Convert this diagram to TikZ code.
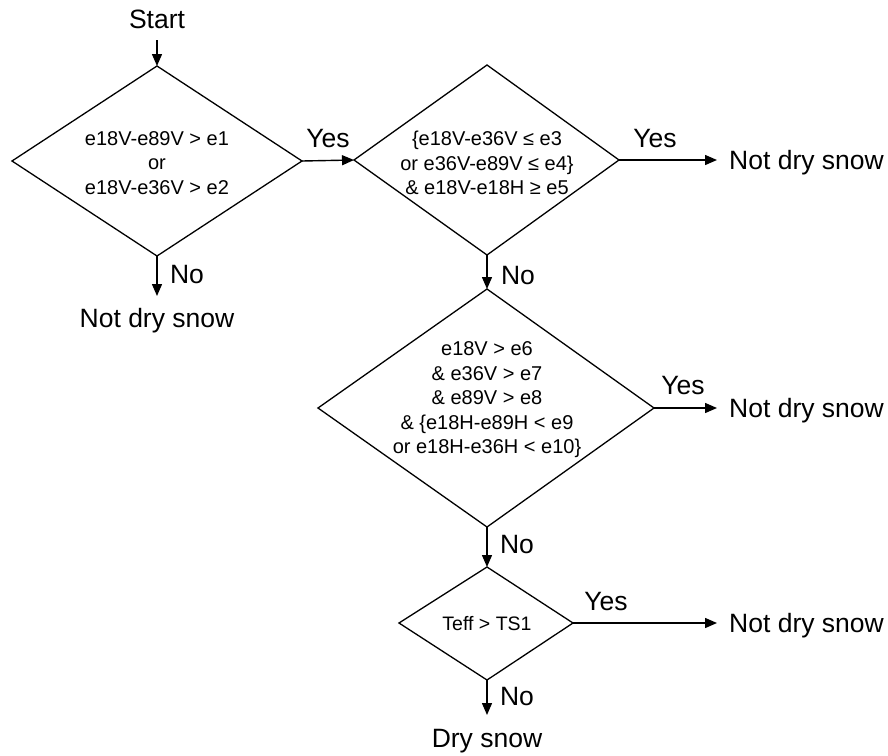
\documentclass[tikz,border=0pt]{standalone}
\usepackage{fontspec}
\setmainfont{Liberation Sans}
\usetikzlibrary{arrows.meta}
\begin{document}
\begin{tikzpicture}[x=1pt,y=-1pt,
  dtext/.style={inner sep=0pt,align=center,font=\fontsize{20}{24.5}\selectfont},
  dline/.style={line width=1.3pt,line join=miter},
  lbl/.style={font=\fontsize{26.5}{30}\selectfont,inner sep=0pt,anchor=base},
  arr/.style={line width=1.4pt,-{Triangle[length=12pt,width=10pt]}}]
\useasboundingbox (0,0) rectangle (888,755);
% decision 1
\coordinate (d1n) at (157,66);  \coordinate (d1s) at (157,256);
\coordinate (d1w) at (12,161);  \coordinate (d1e) at (302,161);
\draw[dline] (d1n) -- (d1e) -- (d1s) -- (d1w) -- cycle;
\node[dtext] (t1) at (157,163) {e18V-e89V > e1\\or\\e18V-e36V > e2};
% decision 2
\coordinate (d2n) at (487,65);  \coordinate (d2s) at (487,255);
\coordinate (d2w) at (354,160); \coordinate (d2e) at (619,160);
\draw[dline] (d2n) -- (d2e) -- (d2s) -- (d2w) -- cycle;
\node[dtext] (t2) at (487,163) {\{e18V-e36V ≤ e3\\or e36V-e89V ≤ e4\}\\\& e18V-e18H ≥ e5};
% decision 3
\coordinate (d3n) at (487,289); \coordinate (d3s) at (487,527);
\coordinate (d3w) at (318,408); \coordinate (d3e) at (654,408);
\draw[dline] (d3n) -- (d3e) -- (d3s) -- (d3w) -- cycle;
\node[dtext] (t3) at (487,400) {e18V > e6\\\& e36V > e7\\\& e89V > e8\\\& \{e18H-e89H < e9\\or e18H-e36H < e10\}};
% decision 4
\coordinate (d4n) at (487,567); \coordinate (d4s) at (487,680);
\coordinate (d4w) at (399,623); \coordinate (d4e) at (573,623);
\draw[dline] (d4n) -- (d4e) -- (d4s) -- (d4w) -- cycle;
\node[dtext,font=\fontsize{19.5}{24}\selectfont] (t4) at (487,624) {Teff > TS1};
% terminal texts
\node[lbl] (start) at (157,28) {Start};
\node[lbl] (nd1) at (157,327) {Not dry snow};
\node[lbl,anchor=base west] (nd2) at (729,169) {Not dry snow};
\node[lbl,anchor=base west] (nd3) at (729,417) {Not dry snow};
\node[lbl,anchor=base west] (nd4) at (729,632) {Not dry snow};
\node[lbl] (dry) at (487,747) {Dry snow};
% yes / no labels
\node[lbl] (y1) at (328,147) {Yes};
\node[lbl] (y2) at (655,147) {Yes};
\node[lbl] (y3) at (683,394) {Yes};
\node[lbl] (y4) at (606,610) {Yes};
\node[lbl] (n1) at (187,283) {No};
\node[lbl] (n2) at (518,284) {No};
\node[lbl] (n3) at (517,553) {No};
\node[lbl] (n4) at (517,705) {No};
% free ends
\coordinate (s0) at (157,40);
\coordinate (e1) at (157,296);
\coordinate (e5) at (487,715);
\coordinate (x2) at (717,0);
% connectors
\draw[arr] (s0) -- (d1n);
\draw[arr] (d1s) -- (e1);
\draw[arr] (d1e) -- (d2w);
\draw[arr] (d2e) -- (d2e -| x2);
\draw[arr] (d2s) -- (d3n);
\draw[arr] (d3e) -- (d3e -| x2);
\draw[arr] (d3s) -- (d4n);
\draw[arr] (d4e) -- (d4e -| x2);
\draw[arr] (d4s) -- (e5);
\end{tikzpicture}
\end{document}
